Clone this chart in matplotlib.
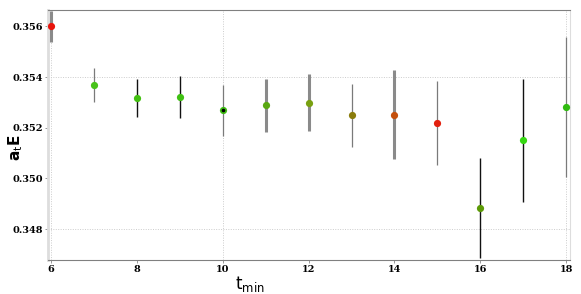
import matplotlib.pyplot as plt

t_min = [6, 7, 8, 9, 10, 11, 12, 13, 14, 15, 16, 17, 18]
energy = [0.35600, 0.35368, 0.35316, 0.35321, 0.35269, 0.35289, 0.35299,
          0.35249, 0.35251, 0.35217, 0.34883, 0.35150, 0.35281]
err = [0.00060, 0.00066, 0.00075, 0.00083, 0.00100, 0.00104, 0.00113,
       0.00125, 0.00176, 0.00166, 0.00196, 0.00244, 0.00277]
colors = ['#e8140c', '#48c21a', '#42c010', '#3fc012', '#3dbb12', '#5aa812', '#78a010',
          '#8a7c0c', '#c4500c', '#e2200e', '#5c9a06', '#36d812', '#30bb10']
bar_style = ['thick', 'thin', 'black', 'black', 'thin', 'thick', 'thick',
             'thin', 'thick', 'thin', 'black', 'black', 'thin']

fig = plt.figure(figsize=(5.81, 2.94), dpi=100)
ax = fig.add_axes([0.083, 0.116, 0.898, 0.85])

# reference lines
for xv in [6, 10, 18]:
    ax.axvline(xv, color='#cccccc', linestyle=(0, (1, 1.5)), linewidth=0.7, zorder=0)
for yv in [0.354, 0.348]:
    ax.axhline(yv, color='#cccccc', linestyle=(0, (1, 1.5)), linewidth=0.7, zorder=0)

for x, y, e, c, s in zip(t_min, energy, err, colors, bar_style):
    if s == 'thick':
        ec, lw, cap = '#8a8a8a', 2.2, 0
    elif s == 'thin':
        ec, lw, cap = '#7a7a7a', 0.9, 1.5
    else:
        ec, lw, cap = '#111111', 1.0, 0
    ax.errorbar(x, y, yerr=e, fmt='o', color=c, ecolor=ec, elinewidth=lw,
                capsize=cap, markersize=5.2, markeredgewidth=0, zorder=3)
ax.plot([10], [energy[4]], 'o', color='black', markersize=1.6, zorder=4)

ax.set_xlim(5.93, 18.09)
ax.set_ylim(0.34678, 0.35665)
ax.set_xticks([6, 8, 10, 12, 14, 16, 18])
ax.set_yticks([0.348, 0.350, 0.352, 0.354, 0.356])
ax.set_yticklabels(['0.348', '0.350', '0.352', '0.354', '0.356'])
for lab in ax.get_xticklabels() + ax.get_yticklabels():
    lab.set_family('DejaVu Serif')
    lab.set_fontweight('bold')
    lab.set_fontsize(7)
ax.tick_params(length=2, width=0.6, color='#888888', pad=2)

ax.spines['top'].set_color('#808080')
ax.spines['bottom'].set_color('#808080')
ax.spines['left'].set_color('#dddddd')
ax.spines['left'].set_linewidth(2)
ax.spines['right'].set_color('#dddddd')

ax.set_xlabel(r'$\mathsf{t}_{\mathsf{min}}$', fontsize=12)
ax.xaxis.set_label_coords(0.387, -0.055)
ax.set_ylabel(r'$\mathbf{a}_{\mathsf{t}}\mathbf{E}$', fontsize=11)
ax.yaxis.set_label_coords(-0.045, 0.45)

fig.savefig('out.png', dpi=100)
